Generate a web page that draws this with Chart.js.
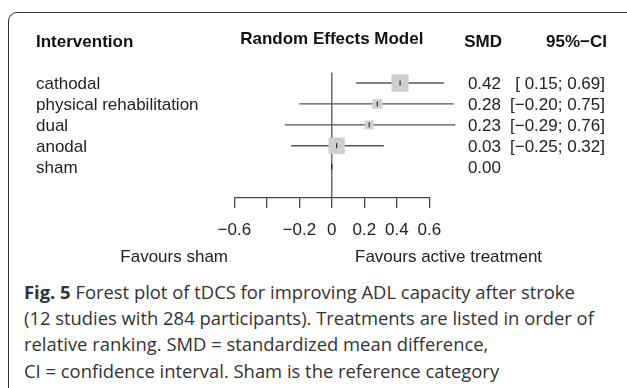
<!DOCTYPE html>
<html>
<head>
<meta charset="utf-8">
<script src="https://cdn.jsdelivr.net/npm/chart.js@4.4.1/dist/chart.umd.min.js"></script>
<style>
  html, body { margin: 0; padding: 0; background: #fff; overflow: hidden; width: 627px; height: 388px; }
  #frame { position: absolute; left: 8px; top: 12px; width: 700px; height: 420px; border: 1.5px solid #333; border-top-left-radius: 9px; }
  #myChart { position: absolute; left: 0; top: 0; }
  #caption { position: absolute; left: 24px; top: 279px; font-family: 'Open Sans'; font-size: 18.4px; line-height: 26.2px; color: #333; white-space: nowrap; }
</style>
</head>
<body>
<div id="frame"></div>
<canvas id="myChart" width="627" height="270"></canvas>
<div id="caption"><b>Fig. 5</b> Forest plot of tDCS for improving ADL capacity after stroke<br>(12 studies with 284 participants). Treatments are listed in order of<br>relative ranking. SMD = standardized mean difference,<br>CI = confidence interval. Sham is the reference category</div>
<script>
// forest plot data (sham = reference)
const treatments = ['cathodal', 'physical rehabilitation', 'dual', 'anodal', 'sham'];
const smd = [0.42, 0.28, 0.23, 0.03, 0.00];
const lower = [0.15, -0.20, -0.29, -0.25, null];
const upper = [0.69, 0.75, 0.76, 0.32, null];
const xTicks = [-0.6, -0.4, -0.2, 0, 0.2, 0.4, 0.6];
const hiddenTicks = [-0.4];

const minus = s => s.replace('-', '\u2212');
const fmtTick = v => v === 0 ? '0' : minus(String(v));
const fmtLow = v => v < 0 ? minus(v.toFixed(2)) : ' ' + v.toFixed(2);
const ciText = i => '[' + fmtLow(lower[i]) + '; ' + upper[i].toFixed(2) + ']';

const FONT = '"Liberation Sans", Arial, sans-serif';
const lineCol = '#555';
const n = treatments.length;

// box size from precision (inverse of CI width)
const boxRadius = i => (9.3 / (upper[i] - lower[i])) / (2 * Math.SQRT1_2);

const datasets = [];
// point estimate marks
datasets.push({
    type: 'scatter',
    data: smd.map((v, i) => ({ x: v, y: i + 1 })),
    pointStyle: 'line',
    rotation: 90,
    pointRadius: 2.5,
    borderColor: '#111',
    borderWidth: 1,
    clip: false,
    order: 0
});
// boxes
const withCI = treatments.map((t, i) => i).filter(i => lower[i] !== null);
datasets.push({
    type: 'scatter',
    data: withCI.map(i => ({ x: smd[i], y: i + 1 })),
    pointStyle: 'rect',
    pointRadius: withCI.map(boxRadius),
    backgroundColor: '#cfcfcf',
    borderWidth: 0,
    clip: false,
    order: 1
});
// CI lines
withCI.forEach(i => {
    datasets.push({
        type: 'line',
        data: [{ x: lower[i], y: i + 1 }, { x: upper[i], y: i + 1 }],
        borderColor: lineCol,
        borderWidth: 1.3,
        pointRadius: 0,
        clip: false,
        order: 2
    });
});
// line of no effect
datasets.push({
    type: 'line',
    data: [{ x: 0, y: 0.5 }, { x: 0, y: n + 1.5 }],
    borderColor: lineCol,
    borderWidth: 1.3,
    pointRadius: 0,
    clip: false,
    order: 3
});

const textPlugin = {
    id: 'forestText',
    afterDraw(chart) {
        const { ctx, scales: { x, y } } = chart;
        ctx.save();
        ctx.textBaseline = 'middle';
        ctx.fillStyle = '#111';
        ctx.font = 'bold 17px ' + FONT;
        ctx.textAlign = 'left';
        ctx.fillText('Intervention', 36, 42.5);
        ctx.textAlign = 'center';
        ctx.fillText('Random Effects Model', x.getPixelForValue(0), 39);
        ctx.textAlign = 'right';
        ctx.fillText('SMD', 502, 42.5);
        ctx.fillText('95%\u2212CI', 607, 42.5);

        ctx.font = '17px ' + FONT;
        ctx.fillStyle = '#222';
        treatments.forEach((t, i) => {
            const py = y.getPixelForValue(i + 1) + 1.5;
            ctx.textAlign = 'left';
            ctx.fillText(t, 36, py);
            ctx.textAlign = 'right';
            ctx.fillText(smd[i].toFixed(2), 501, py);
            if (lower[i] !== null) ctx.fillText(ciText(i), 605, py);
        });
        ctx.textAlign = 'right';
        ctx.fillText('Favours sham', 228, 257);
        ctx.textAlign = 'left';
        ctx.fillText('Favours active treatment', 355, 257);
        ctx.restore();
    }
};

new Chart(document.getElementById('myChart'), {
    type: 'scatter',
    data: { datasets: datasets },
    options: {
        responsive: false,
        animation: false,
        layout: { padding: { top: 62.1, bottom: 32, left: 234.3, right: 197.7 } },
        plugins: { legend: { display: false }, tooltip: { enabled: false } },
        scales: {
            x: {
                type: 'linear',
                min: -0.6,
                max: 0.6,
                afterBuildTicks: s => { s.ticks = xTicks.map(v => ({ value: v })); },
                afterFit: s => { s.height = 40; },
                border: { display: true, color: '#444', width: 1.3 },
                grid: { drawOnChartArea: false, drawTicks: true, tickLength: 10, color: '#444', lineWidth: 1.3 },
                ticks: {
                    autoSkip: false,
                    maxRotation: 0,
                    padding: 12,
                    color: '#222',
                    font: { family: FONT, size: 17 },
                    callback: v => hiddenTicks.includes(v) ? '' : fmtTick(v)
                }
            },
            y: {
                type: 'linear',
                display: false,
                reverse: true,
                min: 0,
                max: n + 1.5
            }
        }
    },
    plugins: [textPlugin]
});
</script>
</body>
</html>
